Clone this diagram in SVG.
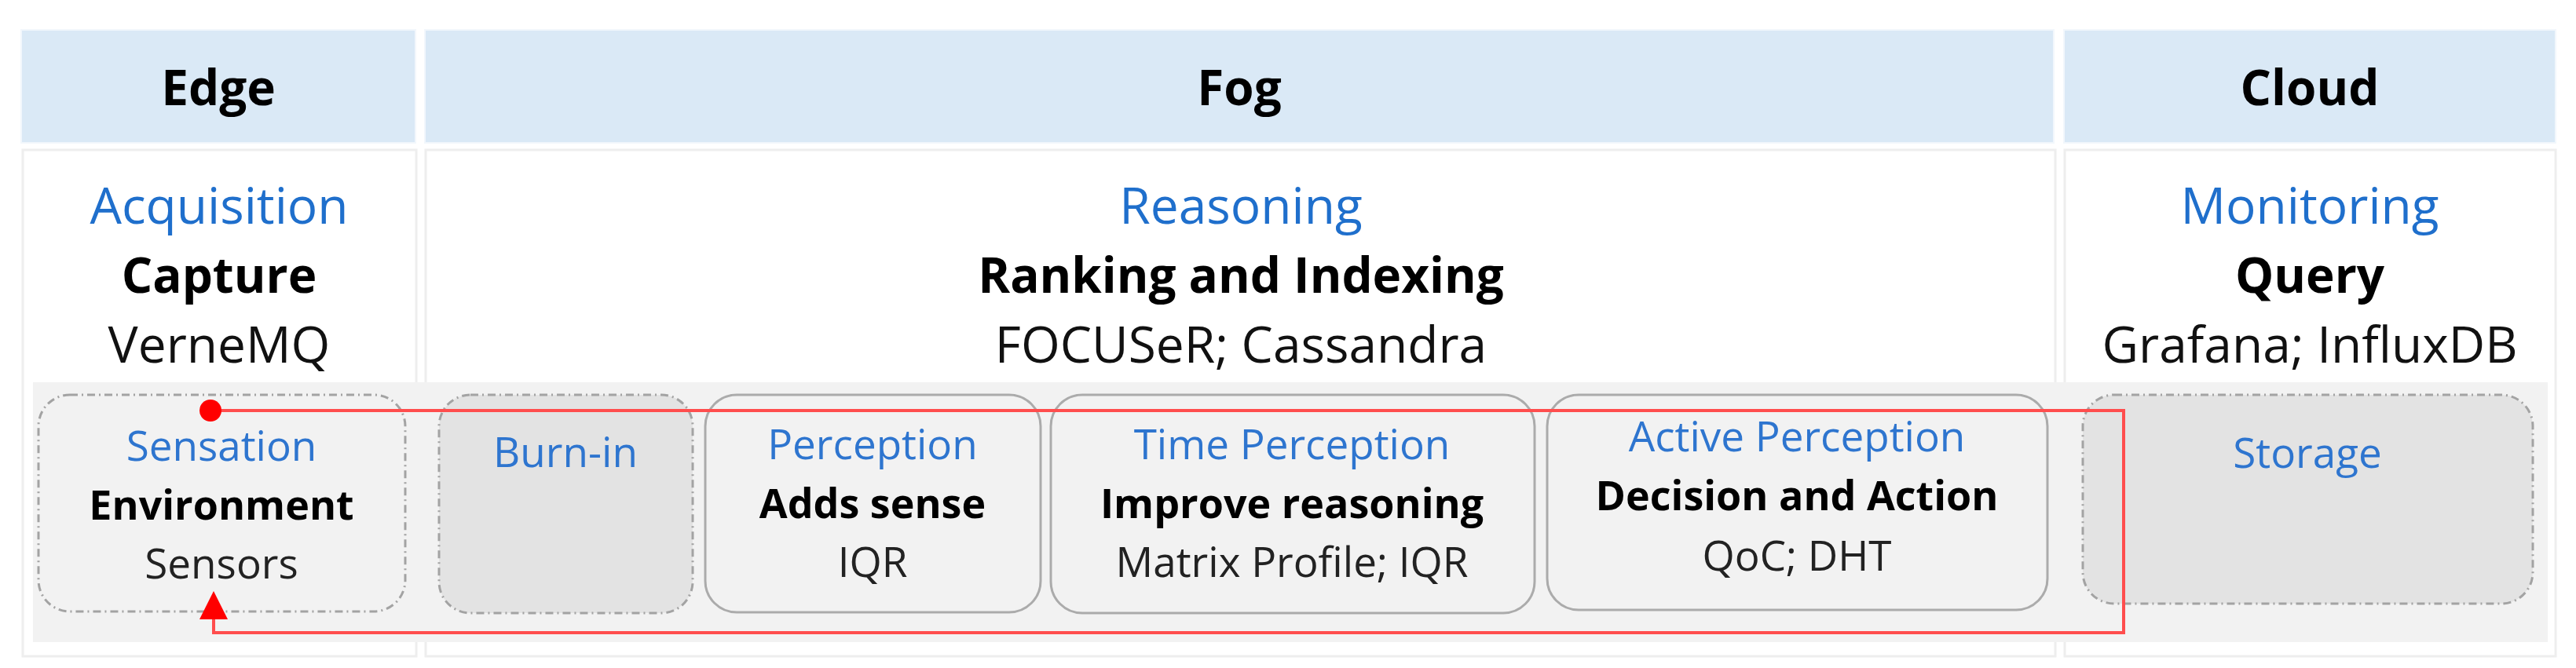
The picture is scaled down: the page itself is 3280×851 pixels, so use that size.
<svg xmlns="http://www.w3.org/2000/svg" width="3280" height="851" viewBox="0 0 3280 851">
<defs>
<style>
.hdr{fill:#DAE9F6;stroke:#F2F7FC;stroke-width:2}
.cell{fill:#FFFFFF;stroke:#EEEEEE;stroke-width:3}
.band{fill:#F2F2F2}
.t{font-family:"Open Sans","Noto Sans",sans-serif;text-anchor:middle}
.h{font-size:62px;font-weight:700;fill:#000000}
.blue{font-size:64px;fill:#1F6FCC}
.bold{font-size:62px;font-weight:700;fill:#000000}
.reg{font-size:64px;fill:#111111}
.sblue{font-size:53px;fill:#2E75CF}
.sbold{font-size:52px;font-weight:700;fill:#000000}
.sreg{font-size:53px;fill:#222222}
.dashbox{stroke:#A3A3A3;stroke-width:3;stroke-dasharray:10 5 2 5}
.light{fill:#F2F2F2}
.dark{fill:#E3E3E3}
.solid{fill:#F2F2F2;stroke:#ABABAB;stroke-width:3}
.conn{fill:none;stroke:#FF4D4D;stroke-width:4}
</style>
<marker id="arr" markerUnits="userSpaceOnUse" markerWidth="36" markerHeight="36" refX="0" refY="18" orient="auto" overflow="visible"><path d="M0,0 L36,18 L0,36 Z" fill="#FF0000"/></marker>
<marker id="dot" markerUnits="userSpaceOnUse" markerWidth="30" markerHeight="30" refX="15" refY="15" overflow="visible"><circle cx="15" cy="15" r="14" fill="#FF0000"/></marker>
</defs>
<rect width="3280" height="851" fill="#FFFFFF"/>

<g id="col-edge">
<rect class="hdr" x="27" y="38" width="502" height="144"/>
<text class="t h" x="278" y="134">Edge</text>
<rect class="cell" x="29" y="191" width="501" height="645"/>
<text class="t blue" x="279" y="285">Acquisition</text>
<text class="t bold" x="279" y="373">Capture</text>
<text class="t reg" x="279" y="462">VerneMQ</text>
</g>

<g id="col-fog">
<rect class="hdr" x="541" y="38" width="2074" height="144"/>
<text class="t h" x="1578" y="134">Fog</text>
<rect class="cell" x="542" y="191" width="2075" height="645"/>
<text class="t blue" x="1580" y="285">Reasoning</text>
<text class="t bold" x="1580" y="373">Ranking and Indexing</text>
<text class="t reg" x="1580" y="462">FOCUSeR; Cassandra</text>
</g>

<g id="col-cloud">
<rect class="hdr" x="2628" y="38" width="626" height="144"/>
<text class="t h" x="2941" y="134">Cloud</text>
<rect class="cell" x="2629" y="191" width="625" height="645"/>
<text class="t blue" x="2941" y="285">Monitoring</text>
<text class="t bold" x="2941" y="373">Query</text>
<text class="t reg" x="2941" y="462">Grafana; InfluxDB</text>
</g>

<rect id="band" class="band" x="42" y="487" width="3202" height="331"/>

<g id="sensation">
<rect class="light dashbox" x="49" y="503" width="467" height="276" rx="40" ry="40"/>
<text class="t sblue" x="282" y="587">Sensation</text>
<text class="t sbold" x="282" y="662">Environment</text>
<text class="t sreg" x="282" y="737">Sensors</text>
</g>

<g id="burn-in">
<rect class="dark dashbox" x="559" y="503" width="323" height="278" rx="40" ry="40"/>
<text class="t sblue" x="720" y="595">Burn-in</text>
</g>

<g id="perception">
<rect class="solid" x="898" y="503" width="427" height="277" rx="40" ry="40"/>
<text class="t sblue" x="1111" y="585">Perception</text>
<text class="t sbold" x="1111" y="660">Adds sense</text>
<text class="t sreg" x="1111" y="735">IQR</text>
</g>

<g id="time-perception">
<rect class="solid" x="1338" y="503" width="616" height="278" rx="40" ry="40"/>
<text class="t sblue" x="1645" y="585">Time Perception</text>
<text class="t sbold" x="1645" y="660">Improve reasoning</text>
<text class="t sreg" x="1645" y="735">Matrix Profile; IQR</text>
</g>

<g id="active-perception">
<rect class="solid" x="1970" y="503" width="637" height="274" rx="40" ry="40"/>
<text class="t sblue" x="2288" y="575">Active Perception</text>
<text class="t sbold" x="2288" y="650">Decision and Action</text>
<text class="t sreg" x="2288" y="727">QoC; DHT</text>
</g>

<g id="storage">
<rect class="dark dashbox" x="2652" y="503" width="573" height="266" rx="40" ry="40"/>
<text class="t sblue" x="2938" y="596">Storage</text>
</g>

<g id="connectors">
<path class="conn" d="M268,523 H2704 V806 H272 V789" marker-start="url(#dot)" marker-end="url(#arr)"/>
</g>
</svg>
